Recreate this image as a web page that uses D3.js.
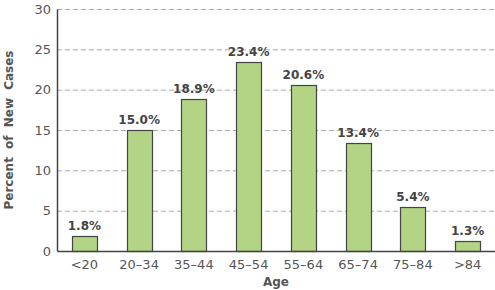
<!DOCTYPE html>
<html lang="en">
  <head>
    <meta charset="UTF-8" />
    <title>New Cases by Age</title>
    <script src="https://d3js.org/d3.v7.min.js"></script>
    <style>
      body {
        margin: 0;
        font-family: "DejaVu Sans", sans-serif;
        background: #fff;
      }
    </style>
  </head>
  <body>
    <svg width="495" height="290"></svg>
    <script>
      // data
      const ageGroups = ["<20", "20\u201334", "35\u201344", "45\u201354", "55\u201364", "65\u201374", "75\u201384", ">84"];
      const percents = [1.8, 15.0, 18.9, 23.4, 20.6, 13.4, 5.4, 1.3];
      const yTicks = [0, 5, 10, 15, 20, 25, 30];

      const svg = d3.select("svg");
      const margin = { top: 9, right: 0, bottom: 39, left: 57 };
      const width = 495 - margin.left - margin.right;
      const height = 290 - margin.top - margin.bottom;

      const g = svg.append("g")
        .attr("transform", `translate(${margin.left},${margin.top})`);

      const x = d3.scaleBand()
        .domain(ageGroups)
        .range([0, width])
        .paddingInner(0.54)
        .paddingOuter(0.27);

      const y = d3.scaleLinear().domain([0, 30]).range([height, 0]);

      // dashed grid
      g.selectAll(".grid")
        .data(yTicks.filter((d) => d > 0))
        .enter()
        .append("line")
        .attr("x1", 0)
        .attr("x2", width)
        .attr("y1", (d) => y(d) + 0.5)
        .attr("y2", (d) => y(d) + 0.5)
        .attr("stroke", "#aaa")
        .attr("stroke-dasharray", "5,3");

      // bars
      g.selectAll("rect")
        .data(percents)
        .enter()
        .append("rect")
        .attr("x", (d, i) => Math.round(x(ageGroups[i])) + 0.5)
        .attr("y", (d) => Math.round(y(d)) + 0.5)
        .attr("width", Math.round(x.bandwidth()))
        .attr("height", (d) => height - Math.round(y(d)))
        .attr("fill", "#b3d385")
        .attr("stroke", "#444")
        .attr("stroke-width", 1.2);

      // value labels
      g.selectAll(".val")
        .data(percents)
        .enter()
        .append("text")
        .attr("x", (d, i) => x(ageGroups[i]) + x.bandwidth() / 2)
        .attr("y", (d) => y(d) - 6)
        .attr("text-anchor", "middle")
        .attr("font-size", 12)
        .attr("font-weight", "bold")
        .attr("fill", "#444")
        .text((d) => d.toFixed(1) + "%");

      // axes
      const yAxis = g.append("g")
        .call(d3.axisLeft(y).tickValues(yTicks).tickSize(0).tickPadding(6));
      yAxis.select(".domain").attr("stroke", "#444").attr("stroke-width", 1.5);
      yAxis.selectAll("text")
        .attr("font-size", 13)
        .attr("font-family", "DejaVu Sans")
        .attr("fill", "#555");

      const xAxis = g.append("g")
        .attr("transform", `translate(0,${height})`)
        .call(d3.axisBottom(x).tickSize(0).tickPadding(9));
      xAxis.select(".domain").attr("stroke", "#444").attr("stroke-width", 1.5);
      xAxis.selectAll("text")
        .attr("font-size", 13)
        .attr("font-family", "DejaVu Sans")
        .attr("fill", "#555");

      // axis titles
      svg.append("text")
        .attr("x", margin.left + width / 2)
        .attr("y", 286)
        .attr("text-anchor", "middle")
        .attr("font-size", 12)
        .attr("font-weight", "bold")
        .attr("fill", "#555")
        .text("Age");

      svg.append("text")
        .attr("transform", `translate(13,${margin.top + height / 2}) rotate(-90)`)
        .attr("text-anchor", "middle")
        .attr("font-size", 12)
        .attr("font-weight", "bold")
        .attr("fill", "#555")
        .attr("word-spacing", 4)
        .text("Percent of New Cases");
    </script>
  </body>
</html>
